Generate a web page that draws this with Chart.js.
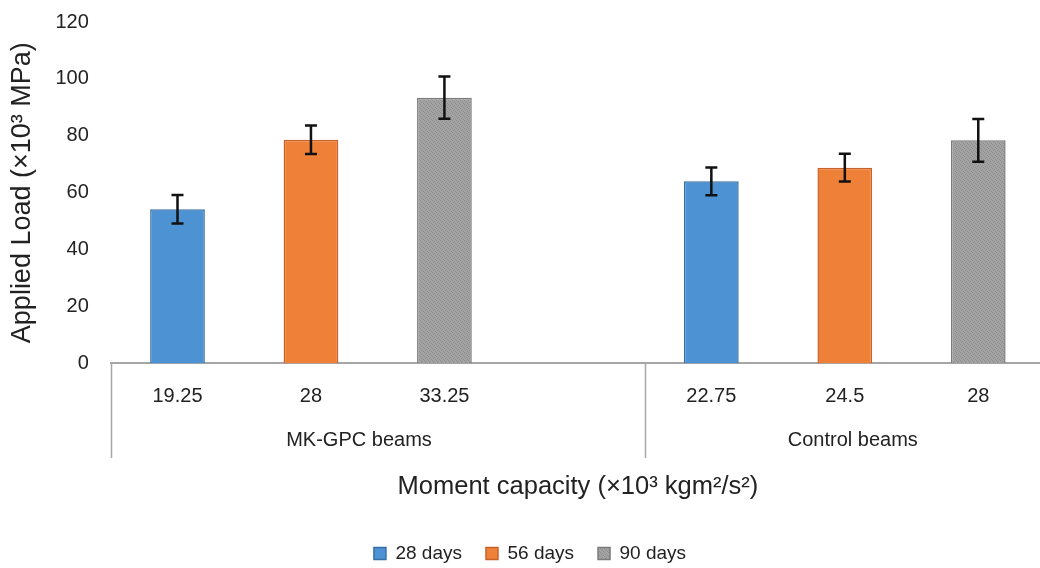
<!DOCTYPE html>
<html>
<head>
<meta charset="utf-8">
<script src="https://cdn.jsdelivr.net/npm/chart.js@4.4.1/dist/chart.umd.min.js"></script>
<style>
    html, body { margin: 0; padding: 0; background: #fff; overflow: hidden; }
    #wrap { position: absolute; left: 0; top: 0; width: 1060px; height: 568px; }
</style>
</head>
<body>
<div id="wrap"><canvas id="chart"></canvas></div>
<script>
// ========================================
// データ
// ========================================
const categories = ['19.25', '28', '33.25', '', '22.75', '24.5', '28'];
const groupNames = ['MK-GPC beams', 'Control beams'];
const seriesNames = ['28 days', '56 days', '90 days'];

const load28 = [54.2, null, null, null, 64.0, null, null];
const load56 = [null, 78.6, null, null, null, 68.8, null];
const load90 = [null, null, 93.4, null, null, null, 78.4];

const err28 = [5.0, null, null, null, 4.9, null, null];
const err56 = [null, 5.0, null, null, null, 4.9, null];
const err90 = [null, null, 7.4, null, null, null, 7.5];

const yTicks = [0, 20, 40, 60, 80, 100, 120];

// ========================================
// グレーの網目パターン
// ========================================
function makeGrayPattern() {
    const c = document.createElement('canvas');
    c.width = 4;
    c.height = 4;
    const g = c.getContext('2d');
    g.fillStyle = '#a3a3a3';
    g.fillRect(0, 0, 4, 4);
    g.fillStyle = '#8d8d8d';
    g.fillRect(0, 0, 1, 1);
    g.fillRect(2, 1, 1, 1);
    g.fillRect(1, 2, 1, 1);
    g.fillRect(3, 3, 1, 1);
    return g.createPattern(c, 'repeat');
}

// ========================================
// エラーバー
// ========================================
const errorBarPlugin = {
    id: 'errorBars',
    afterDatasetsDraw(chart) {
        const ctx = chart.ctx;
        const y = chart.scales.y;
        const errs = [err28, err56, err90];
        ctx.save();
        ctx.strokeStyle = '#111';
        ctx.lineWidth = 2.5;
        chart.data.datasets.forEach((ds, i) => {
            const meta = chart.getDatasetMeta(i);
            meta.data.forEach((bar, j) => {
                const v = ds.data[j];
                const e = errs[i][j];
                if (v === null || e === null) return;
                const top = y.getPixelForValue(v + e);
                const bot = y.getPixelForValue(v - e);
                const half = 6;
                ctx.beginPath();
                ctx.moveTo(bar.x, top);
                ctx.lineTo(bar.x, bot);
                ctx.moveTo(bar.x - half, top);
                ctx.lineTo(bar.x + half, top);
                ctx.moveTo(bar.x - half, bot);
                ctx.lineTo(bar.x + half, bot);
                ctx.stroke();
            });
        });
        ctx.restore();
    }
};

// ========================================
// グループラベルと区切り線
// ========================================
const groupPlugin = {
    id: 'groups',
    afterDraw(chart) {
        const ctx = chart.ctx;
        const area = chart.chartArea;
        const slot = (area.right - area.left) / categories.length;
        ctx.save();
        ctx.strokeStyle = '#a6a6a6';
        ctx.lineWidth = 1.5;
        [0, 4, 7].forEach(k => {
            const x = Math.round(area.left + k * slot) + 0.5;
            ctx.beginPath();
            ctx.moveTo(x, area.bottom);
            ctx.lineTo(x, 458);
            ctx.stroke();
        });
        ctx.fillStyle = '#222';
        ctx.font = '20px "Liberation Sans", Arial, sans-serif';
        ctx.textAlign = 'center';
        ctx.textBaseline = 'middle';
        ctx.fillText(groupNames[0], area.left + 1.86 * slot, 440);
        ctx.fillText(groupNames[1], area.left + 5.56 * slot, 440);
        ctx.restore();
    }
};

// ========================================
// チャート
// ========================================
window.addEventListener('DOMContentLoaded', () => {
    const ctx = document.getElementById('chart').getContext('2d');
    const grayPattern = makeGrayPattern();

    new Chart(ctx, {
        type: 'bar',
        data: {
            labels: categories,
            datasets: [
                {
                    label: seriesNames[0],
                    data: load28,
                    backgroundColor: '#4d92d2',
                    borderColor: '#3670a8',
                    borderWidth: 1.5
                },
                {
                    label: seriesNames[1],
                    data: load56,
                    backgroundColor: '#ef8038',
                    borderColor: '#c8622a',
                    borderWidth: 1.5
                },
                {
                    label: seriesNames[2],
                    data: load90,
                    backgroundColor: grayPattern,
                    borderColor: '#7b7b7b',
                    borderWidth: 1.5
                }
            ]
        },
        options: {
            responsive: true,
            maintainAspectRatio: false,
            animation: false,
            datasets: {
                bar: {
                    categoryPercentage: 1.0,
                    barPercentage: 0.41
                }
            },
            layout: {
                padding: { top: 22, right: 15, bottom: 0, left: 15 }
            },
            plugins: {
                legend: {
                    position: 'bottom',
                    maxHeight: 48,
                    labels: {
                        boxWidth: 12,
                        boxHeight: 12,
                        padding: 24,
                        color: '#222',
                        font: { size: 19, family: '"Liberation Sans", Arial, sans-serif' }
                    }
                },
                tooltip: { enabled: false }
            },
            scales: {
                x: {
                    stacked: true,
                    grid: { display: false, drawTicks: false },
                    border: { display: true, color: '#a6a6a6', width: 2 },
                    ticks: {
                        padding: 21,
                        color: '#222',
                        font: { size: 20, family: '"Liberation Sans", Arial, sans-serif' }
                    },
                    title: {
                        display: true,
                        text: 'Moment capacity (×10³ kgm²/s²)',
                        color: '#222',
                        font: { size: 25.5, family: '"Liberation Sans", Arial, sans-serif' },
                        padding: { top: 42, bottom: 18 }
                    }
                },
                y: {
                    stacked: true,
                    min: 0,
                    max: 120,
                    afterBuildTicks: scale => {
                        scale.ticks = yTicks.map(v => ({ value: v }));
                    },
                    afterFit: scale => {
                        scale.paddingTop = 0;
                        scale.paddingBottom = 0;
                    },
                    grid: { display: false, drawTicks: false },
                    border: { display: false },
                    ticks: {
                        padding: 22,
                        color: '#222',
                        font: { size: 20, family: '"Liberation Sans", Arial, sans-serif' }
                    },
                    title: {
                        display: true,
                        text: 'Applied Load (×10³ MPa)',
                        color: '#222',
                        font: { size: 27, family: '"Liberation Sans", Arial, sans-serif' },
                        padding: { top: -9, bottom: -5 }
                    }
                }
            }
        },
        plugins: [errorBarPlugin, groupPlugin]
    });
});
</script>
</body>
</html>
